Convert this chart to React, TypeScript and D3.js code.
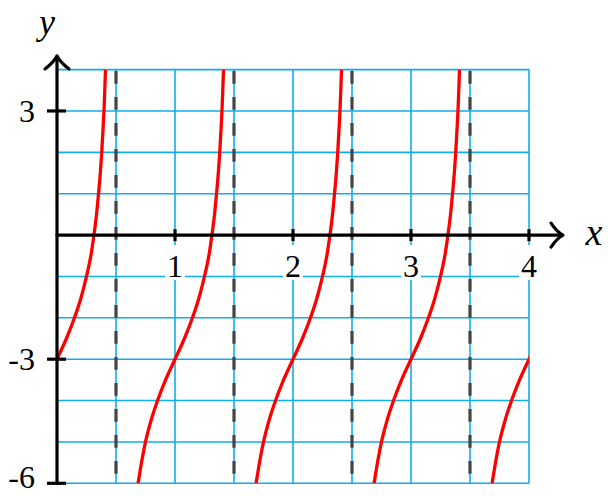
import * as d3 from 'd3';
import { useEffect } from 'react';

// values
const xTicks = [1, 2, 3, 4];
const yTicks = [3, -3, -6];
const xGrid = [0.5, 1, 1.5, 2, 2.5, 3, 3.5, 4];
const yGrid = [-6, -5, -4, -3, -2, -1, 1, 2, 3, 4];
const asymptotes = [0.5, 1.5, 2.5, 3.5];
const branchCenters = [0, 1, 2, 3, 4];
// one branch of the curve: offset from branch center, y value
const branchDx = [-0.313, -0.29, -0.25, -0.2, -0.148, -0.08, 0, 0.08, 0.148, 0.2, 0.25, 0.29, 0.313, 0.335, 0.352, 0.367, 0.379, 0.389, 0.398, 0.405, 0.411];
const branchY = [-6, -5.6, -5, -4.45, -4, -3.5, -3, -2.5, -2, -1.55, -1, -0.45, 0, 0.5, 1, 1.5, 2, 2.5, 3, 3.5, 4];

const width = 608;
const height = 496;
const font = '"Liberation Serif", "DejaVu Serif", serif';

export default function App() {
    useEffect(() => {
        document.body.style.margin = '0';
    }, []);

    const x = d3.scaleLinear().domain([0, 4]).range([57, 529]);
    const y = d3.scaleLinear().domain([-6, 4]).range([483.3, 69.6]);

    const line = d3.line<[number, number]>()
        .x(d => x(d[0]))
        .y(d => y(d[1]))
        .curve(d3.curveMonotoneX);

    const branches = branchCenters.map(c =>
        line(branchDx.map((dx, i) => [c + dx, branchY[i]] as [number, number])) || ''
    );

    const grid = '#0fadea';
    const x0 = x(0);
    const y0 = y(0);

    return (
        <svg width={width} height={height} style={{ display: 'block' }}>
            <defs>
                <clipPath id="plot-clip">
                    <rect x={x(0)} y={y(4)} width={x(4) - x(0)} height={y(-6) - y(4)} />
                </clipPath>
            </defs>

            {/* grid */}
            <g stroke={grid} strokeWidth={1.6}>
                {xGrid.map(v => (
                    <line key={'gx' + v} x1={x(v)} x2={x(v)} y1={y(4)} y2={y(-6)} />
                ))}
                {yGrid.map(v => (
                    <line key={'gy' + v} x1={x(0)} x2={x(4)} y1={y(v)} y2={y(v)} />
                ))}
            </g>

            {/* asymptotes */}
            <g stroke="#444" strokeWidth={3.2} strokeDasharray="12.7 13.3">
                {asymptotes.map(v => (
                    <line key={'a' + v} x1={x(v)} x2={x(v)} y1={y(4) + 1.5} y2={y(-6)} />
                ))}
            </g>

            {/* curve */}
            <g clipPath="url(#plot-clip)" fill="none" stroke="#ff0000" strokeWidth={3.3}>
                {branches.map((d, i) => (
                    <path key={'b' + i} d={d} />
                ))}
            </g>

            {/* x tick label backgrounds */}
            {xTicks.map(v => (
                <rect key={'xb' + v} x={x(v) - 10} y={245} width={20} height={35} fill="white" />
            ))}

            {/* axes */}
            <g stroke="black" strokeWidth={3.2} fill="none" strokeLinecap="round" strokeLinejoin="round">
                <line x1={x0} x2={x0} y1={y(-6)} y2={57} />
                <line x1={x0} x2={562} y1={y0} y2={y0} />
                <path d={`M ${x0 - 12} ${69} Q ${x0 - 3} ${62} ${x0} ${56} Q ${x0 + 3} ${62} ${x0 + 12} ${69}`} />
                <path d={`M ${551} ${y0 - 12} Q ${557} ${y0 - 3} ${563} ${y0} Q ${557} ${y0 + 3} ${551} ${y0 + 12}`} />
            </g>

            {/* ticks */}
            <g stroke="black" strokeWidth={3.2}>
                {xTicks.map(v => (
                    <line key={'xt' + v} x1={x(v)} x2={x(v)} y1={y0 - 6} y2={y0 + 6} />
                ))}
                {yTicks.map(v => (
                    <line key={'yt' + v} x1={x0 - 10} x2={x0 + 9} y1={y(v)} y2={y(v)} />
                ))}
            </g>

            {/* tick labels */}
            <g fontFamily={font} fontSize={32} fill="black">
                {xTicks.map(v => (
                    <text key={'xl' + v} x={x(v)} y={277} textAnchor="middle">{v}</text>
                ))}
                {yTicks.map(v => (
                    <text key={'yl' + v} x={35} y={Math.min(y(v) + 11, 488)} textAnchor="end">{v}</text>
                ))}
            </g>

            {/* axis titles */}
            <text x={47} y={34} fontFamily={font} fontStyle="italic" fontSize={36} textAnchor="middle">y</text>
            <text x={594} y={245} fontFamily={font} fontStyle="italic" fontSize={38} textAnchor="middle">x</text>
        </svg>
    );
}
